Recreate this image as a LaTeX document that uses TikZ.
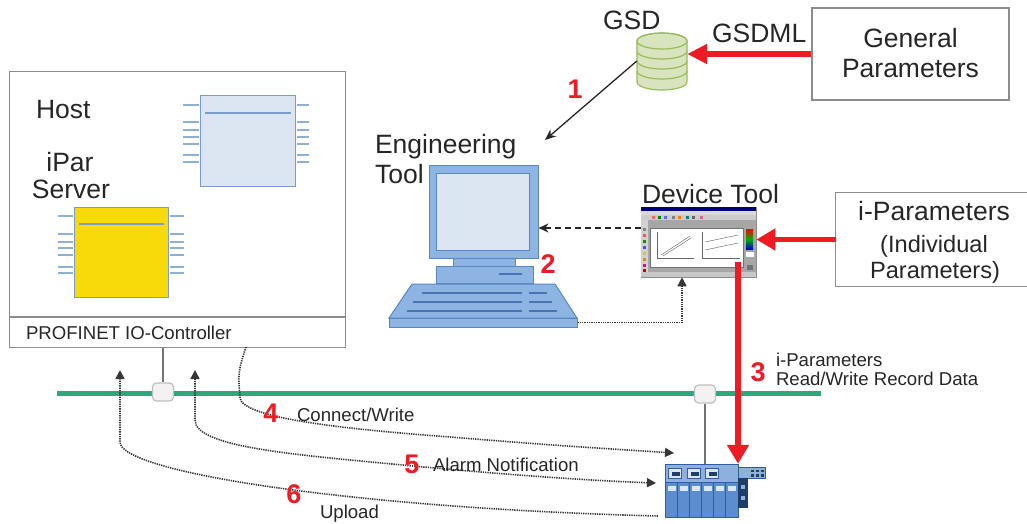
\documentclass[tikz,border=0pt]{standalone}
\usepackage{fontspec}
\setmainfont{Liberation Sans}
\usetikzlibrary{arrows.meta,calc}

\definecolor{txt}{HTML}{262626}
\definecolor{boxgray}{HTML}{8C8C8C}
\definecolor{redline}{HTML}{ED1C24}
\definecolor{busgreen}{HTML}{2FA77A}
\definecolor{chipfill}{HTML}{DCE6F2}
\definecolor{chipedge}{HTML}{7A9CC8}
\definecolor{pincol}{HTML}{8FAFD6}
\definecolor{chipyellow}{HTML}{F8DA0B}
\definecolor{pcblue}{HTML}{8DB4E2}
\definecolor{pcedge}{HTML}{5A87C2}
\definecolor{pcscreen}{HTML}{DCE6F2}
\definecolor{keyline}{HTML}{4A74B0}
\definecolor{devbody}{HTML}{5C8ECF}
\definecolor{devhead}{HTML}{8DB0DD}
\definecolor{devedge}{HTML}{2F5F9F}
\definecolor{devdark}{HTML}{1F3F6A}
\definecolor{devlight}{HTML}{DCE6F2}
\definecolor{gsdfill}{HTML}{D7E4BD}
\definecolor{gsdedge}{HTML}{9BBB59}
\definecolor{dotcol}{HTML}{363636}
\definecolor{wingray}{HTML}{A6A6A6}

\newcommand\lblbig{\fontsize{26.5}{30}\selectfont}
\newcommand\lblmid{\fontsize{23.6}{27}\selectfont}
\newcommand\lblsmall{\fontsize{18.6}{21}\selectfont}
\newcommand\lblnum{\fontsize{27}{30}\selectfont\bfseries}

\begin{document}
\begin{tikzpicture}[x=1pt,y=-1pt,
  lbl/.style={inner sep=0pt, outer sep=0pt, text=txt, anchor=base west},
  lblc/.style={inner sep=0pt, outer sep=0pt, text=txt, anchor=base},
  num/.style={inner sep=0pt, outer sep=0pt, text=redline, font=\lblnum},
  frame/.style={draw=boxgray, line width=1.3pt, inner sep=0pt},
  chip/.style={draw=chipedge, line width=1.2pt, inner sep=0pt, anchor=north west},
  pin/.style={draw=pincol, line width=1.8pt},
  chipline/.style={draw=chipedge, line width=1.3pt},
  pcpart/.style={fill=pcblue, draw=pcedge, line width=1pt},
  busnode/.style={rounded corners=4pt, fill=black!5, draw=black!25, line width=1.2pt,
    minimum width=21pt, minimum height=18pt, inner sep=0pt},
  stub/.style={draw=black!55, line width=1.4pt},
  redarrow/.style={draw=redline, line width=5.5pt, -{Triangle[length=19pt,width=21pt]}},
  blackarrow/.style={draw=txt, line width=1.3pt, -{Stealth[length=11pt,width=9pt]}},
  dasharrow/.style={draw=txt, line width=1.5pt, dash pattern=on 6pt off 4pt,
    -{Stealth[length=10pt,width=9pt]}},
  dotline/.style={draw=dotcol, line width=1.6pt, dash pattern=on 1.3pt off 1pt},
  dottip/.style={dotline, -{Triangle[length=9pt,width=9pt]}},
  dottips/.style={dotline, {Triangle[length=9pt,width=9pt]}-{Triangle[length=9pt,width=9pt]}}
]
\useasboundingbox (0,0) rectangle (1027,523);

% ---------- host / IO-controller ----------
\node[frame, minimum width=336pt, minimum height=276pt, anchor=north west] (host) at (9,71) {};
\coordinate (divy) at (0,317);
\draw[boxgray, line width=1.3pt] (host.west |- divy) -- (host.east |- divy);
\node[lbl, font=\lblsmall] (ctrl) at (26,339) {PROFINET IO-Controller};

\node[lbl, font=\lblbig] (hostlbl) at (36,118) {Host};
\node[lblc, font=\lblbig] (iparlbl) at (70,171) {iPar};
\node[lblc, font=\lblbig] (srvlbl) at (71,198) {Server};

% host processor
\node[chip, fill=chipfill, minimum width=95pt, minimum height=91pt] (hostchip) at (200,95) {};
\foreach \o in {10,27,35,42,49,60,67}{
  \draw[pin] ($(hostchip.north west)+(-0.6,\o)$) -- ++(-16.5,0);
  \draw[pin] ($(hostchip.north east)+(0.6,\o)$) -- ++(12.5,0);
}
\draw[chipline] ($(hostchip.north west)+(5,18)$) -- ($(hostchip.north east)+(-5,18)$);

% iPar server
\node[chip, fill=chipyellow, minimum width=94pt, minimum height=90pt] (iparchip) at (74,207) {};
\foreach \o in {9,27,35,41,48,60,66}{
  \draw[pin] ($(iparchip.north west)+(-0.6,\o)$) -- ++(-15.5,0);
  \draw[pin] ($(iparchip.north east)+(0.6,\o)$) -- ++(14.5,0);
}
\draw[chipline] ($(iparchip.north west)+(5,17)$) -- ($(iparchip.north east)+(-5,17)$);

% ---------- GSD database ----------
\node[minimum width=50pt, minimum height=58pt, inner sep=0pt] (gsd) at (662,61) {};
\filldraw[fill=gsdfill, draw=gsdedge, line width=1.2pt]
  (637,41) -- (637,82) arc[start angle=180, end angle=360, x radius=25pt, y radius=8pt]
  -- (687,41) arc[start angle=0, end angle=180, x radius=25pt, y radius=8pt] -- cycle;
\draw[gsdedge, line width=1.2pt] (662,41) ellipse[x radius=25pt, y radius=8pt];
\foreach \yy in {51,61,71}
  \draw[gsdedge, line width=1.2pt] (637,\yy) arc[start angle=180, end angle=360, x radius=25pt, y radius=8pt];
\node[lbl, font=\lblbig] (gsdlbl) at (603,29) {GSD};

% ---------- General Parameters ----------
\node[frame, minimum width=197pt, minimum height=92pt] (gp) at (910.5,54) {};
\node[lblc, font=\lblbig] (gp1) at (910.5,47) {General};
\node[lblc, font=\lblbig] (gp2) at (910.5,77) {Parameters};
\draw[redarrow, -{Triangle[length=20pt,width=19pt]}] (gp.west) -- (gp.west -| gsd.east);
\node[lbl, font=\lblbig] (gsdml) at (712,42) {GSDML};

% ---------- engineering tool ----------
\node[lbl, font=\lblbig] (englbl) at (375,153) {Engineering};
\node[lbl, font=\lblbig] (englbl2) at (375,183) {Tool};
\node[pcpart, minimum width=109pt, minimum height=93pt, inner sep=0pt] (engmon) at (483.5,211.5) {};
\filldraw[fill=pcscreen, draw=pcedge, line width=0.8pt] (436,173) rectangle (529,250);
\filldraw[pcpart] (453,258) rectangle (515,266);
\filldraw[pcpart] (436,266) rectangle (533,283);
\draw[keyline, line width=1.2pt] (499,274) -- (522,274);
\filldraw[pcpart] (412,284) -- (555,284) -- (577,318) -- (389,318) -- cycle;
\node[pcpart, minimum width=188pt, minimum height=9pt, inner sep=0pt] (kbd) at (483,322.5) {};
\draw[keyline, line width=1.2pt]
  (422,293) -- (522,293) (529,293) -- (547,293)
  (413,302) -- (522,302) (529,302) -- (552,302)
  (407,311) -- (522,311) (529,311) -- (557,311);
\coordinate (engtip) at (545,140);
\draw[blackarrow] (gsd.west) -- (engtip);
\node[num] (n1) at (575,89) {1};
\node[num] (n2) at (548,264) {2};

% ---------- device tool ----------
\node[lbl, font=\lblbig] (dtlbl) at (642,203) {Device Tool};
\node[fill=wingray, draw=black!45, line width=0.6pt, minimum width=115pt, minimum height=70pt, inner sep=0pt] (devtool) at (698.5,242) {};
\fill[blue!45!black] (641,207) rectangle (756,211);
\fill[black!15] (641,211) rectangle (756,215);
\fill[black!20] (641,215) rectangle (756,220);
\foreach \tx/\tc in {652/red!60, 658/green!50!black, 664/blue!60, 672/black!50, 678/orange, 686/teal, 692/black!60, 700/purple!60}
  \fill[\tc] (\tx,216) rectangle ({\tx+3},219);
\fill[black!18] (641,220) rectangle (648,272);
\foreach \ty/\tc in {228/black!50, 234/red!70, 240/green!60!black, 246/blue!70, 252/yellow!80!black, 258/orange, 264/magenta, 269/red!80!black}
  \fill[\tc] (643,\ty) rectangle (646,{\ty+3});
\filldraw[fill=white, draw=black!55, line width=0.5pt] (650,228) rectangle (743,267);
\draw[black!60, line width=0.5pt] (657,232) -- (657,258) -- (694,258) (702,232) -- (702,258) -- (740,258);
\draw[black!55, line width=0.5pt] (661,255) -- (690,236) (663,256) -- (691,238)
  (705,242) -- (738,235) (705,250) -- (738,243);
\shade[top color=red, bottom color=blue!80!black, middle color=green!70!black] (746,229) rectangle (753,249);
\fill[white] (746,252) rectangle (754,257);
\fill[black!55] (747,265) rectangle (753,270);
\fill[black!22] (641,272) rectangle (756,277);

% i-Parameters source
\node[minimum width=191pt, minimum height=93pt, inner sep=0pt] (ip) at (931.5,239.5) {};
\draw[boxgray, line width=1.3pt] (ip.north east) -- (ip.north west) -- (ip.south west) -- (ip.south east);
\node[lblc, font=\lblbig] (ip1) at (934,220) {i-Parameters};
\node[lblc, font=\lblmid] (ip2) at (934,252) {(Individual};
\node[lblc, font=\lblmid] (ip3) at (935,278) {Parameters)};
\draw[redarrow] (ip.west) -- (ip.west -| devtool.east);

% device tool -> engineering tool, keyboard -> device tool
\draw[dasharrow] ([yshift=14pt]devtool.west) -- ([yshift=14pt]devtool.west -| engmon.east);
\draw[dottip] (kbd.east) -| ([xshift=-16.5pt]devtool.south);

% ---------- PROFINET bus ----------
\coordinate (busL) at (57,393);
\coordinate (busR) at (821,393);
\draw[busgreen, line width=5pt] (busL) -- (busR);
\node[busnode] (bus1) at (163,392) {};
\node[busnode] (bus2) at (705,394) {};
\draw[stub] (bus1.north |- host.south) -- (bus1.north);

% ---------- IO device ----------
\node[minimum width=100pt, minimum height=53pt, inner sep=0pt] (iodev) at (715,490.5) {};
\draw[stub] (bus2.south) -- (bus2.south |- iodev.north);
\filldraw[fill=devhead, draw=devedge, line width=0.8pt] (665,464) rectangle (738,482);
\filldraw[fill=devbody, draw=devedge, line width=0.8pt] (665,482) rectangle (738,517);
\foreach \i in {1,...,5}
  \draw[devedge, line width=0.8pt] ({665+\i*12.17},482) -- ({665+\i*12.17},517);
\foreach \i in {0,...,5}
  \fill[devlight] ({667.5+\i*12.17},486) rectangle ({675.5+\i*12.17},491);
\foreach \cx in {668,687,705}{
  \filldraw[fill=devlight, draw=devedge, line width=0.6pt] (\cx,468) rectangle ({\cx+13},478);
  \fill[devdark] ({\cx+4},472) rectangle ({\cx+12},476);
}
\filldraw[fill=devhead, draw=devedge, line width=0.8pt] (738,467) rectangle (765,478);
\foreach \dx in {751,756,761}{
  \fill[devdark] (\dx,469.5) rectangle ({\dx+2.5},472);
  \fill[devdark] (\dx,474) rectangle ({\dx+2.5},476.5);
}
\fill[devdark] (738,478) rectangle (748,508);
\fill[devhead] (741,485) rectangle (745,489);
\fill[devhead] (741,496) rectangle (745,500);

% step 3: i-Parameters down to the device
\coordinate (rstart) at (738,262);
\draw[redarrow] (rstart) -- (rstart |- iodev.north);
\node[num] (n3) at (758,372) {3};
\node[lbl, font=\lblsmall] (t3a) at (776,366) {i-Parameters};
\node[lbl, font=\lblsmall] (t3b) at (776,385) {Read/Write Record Data};

% ---------- acyclic services ----------
\coordinate (cwstart) at (246,347);
\coordinate (cwend) at (674,453);
\draw[dottip] (cwstart) .. controls (238,372) .. (240,398)
  .. controls (243,417) and (330,428) .. (450,437)
  .. controls (550,445) .. (cwend);

\coordinate (alup) at (195,370);
\coordinate (aldev) at (656,483);
\draw[dottips] (alup) -- (195,420) .. controls (195,448) and (300,455) .. (413,466)
  .. controls (520,476) and (600,481) .. (aldev);

\coordinate (upup) at (120,370);
\coordinate (updev) at (658,516);
\draw[dottip] (updev) .. controls (350,508) and (120,472) .. (120,442) -- (upup);

\node[num] (n4) at (271,413) {4};
\node[lbl, font=\lblsmall] (t4) at (297,421) {Connect/Write};
\node[num] (n5) at (412,464) {5};
\node[lbl, font=\lblsmall] (t5) at (433,471) {Alarm Notification};
\node[num] (n6) at (294,494) {6};
\node[lbl, font=\lblsmall] (t6) at (320,518) {Upload};

\end{tikzpicture}
\end{document}
